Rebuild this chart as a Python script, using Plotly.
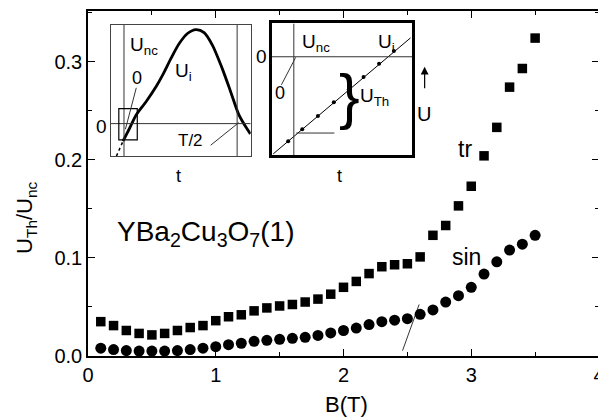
import plotly.graph_objects as go

# ---------------- main data ----------------
B_field = [0.1, 0.2, 0.3, 0.4, 0.5, 0.6, 0.7, 0.8, 0.9, 1.0,
           1.1, 1.2, 1.3, 1.4, 1.5, 1.6, 1.7, 1.8, 1.9, 2.0,
           2.1, 2.2, 2.3, 2.4, 2.5, 2.6, 2.7, 2.8, 2.9, 3.0,
           3.1, 3.2, 3.3, 3.4, 3.5]
tr_values = [0.035, 0.031, 0.026, 0.023, 0.0215, 0.023, 0.026, 0.029, 0.031, 0.036,
             0.040, 0.042, 0.046, 0.049, 0.051, 0.0525, 0.055, 0.058, 0.063, 0.070,
             0.076, 0.084, 0.091, 0.093, 0.094, 0.101, 0.123, 0.133, 0.153, 0.173,
             0.204, 0.233, 0.274, 0.293, 0.324]
sin_values = [0.008, 0.0065, 0.0055, 0.005, 0.005, 0.005, 0.0055, 0.0065, 0.008, 0.0095,
              0.0115, 0.013, 0.015, 0.016, 0.017, 0.018, 0.019, 0.021, 0.0235, 0.026,
              0.0285, 0.032, 0.035, 0.0365, 0.038, 0.0425, 0.047, 0.055, 0.0615, 0.070,
              0.0835, 0.096, 0.108, 0.114, 0.123]
x_ticks = [0, 1, 2, 3, 4]
y_ticks = [0.0, 0.1, 0.2, 0.3]
y_tick_labels = ["0.0", "0.1", "0.2", "0.3"]

# ---------------- inset 1 (U_i vs t) ----------------
inset1_t = [0.040, 0.087, 0.135, 0.182, 0.253, 0.324, 0.371, 0.430, 0.489, 0.548,
            0.608, 0.667, 0.726, 0.796, 0.856, 0.915, 0.962, 0.998]
inset1_u = [-0.348, -0.188, -0.047, 0.096, 0.237, 0.397, 0.521, 0.698, 0.857, 0.964,
            1.006, 0.974, 0.840, 0.591, 0.344, 0.096, -0.029, -0.111]

# ---------------- inset 2 (zoomed start) ----------------
inset2_line_x = [0.012, 0.986]
inset2_line_y = [0.010, 0.890]
inset2_dots_x = [0.118, 0.218, 0.329, 0.442, 0.547, 0.653, 0.763, 0.868]
inset2_dots_y = [0.106, 0.197, 0.298, 0.401, 0.497, 0.594, 0.694, 0.790]

FONT = "Arial, Liberation Sans, sans-serif"

fig = go.Figure()

fig.add_trace(go.Scatter(x=B_field, y=tr_values, mode="markers",
                         marker=dict(symbol="square", size=9.5, color="black"),
                         showlegend=False, xaxis="x", yaxis="y"))
fig.add_trace(go.Scatter(x=B_field, y=sin_values, mode="markers",
                         marker=dict(symbol="circle", size=11, color="black"),
                         showlegend=False, xaxis="x", yaxis="y"))

# inset 1 curve
fig.add_trace(go.Scatter(x=inset1_t[:2], y=inset1_u[:2], mode="lines",
                         line=dict(color="black", width=1.5, dash="dot"),
                         showlegend=False, xaxis="x2", yaxis="y2"))
fig.add_trace(go.Scatter(x=inset1_t[1:], y=inset1_u[1:], mode="lines",
                         line=dict(color="black", width=2.8, shape="spline", smoothing=0.8),
                         showlegend=False, xaxis="x2", yaxis="y2"))

# inset 2 line and dots
fig.add_trace(go.Scatter(x=inset2_line_x, y=inset2_line_y, mode="lines",
                         line=dict(color="black", width=1),
                         showlegend=False, xaxis="x3", yaxis="y3"))
fig.add_trace(go.Scatter(x=inset2_dots_x, y=inset2_dots_y, mode="markers",
                         marker=dict(symbol="circle", size=4, color="black"),
                         showlegend=False, xaxis="x3", yaxis="y3"))

axis_common = dict(showgrid=False, zeroline=False, showline=True, linecolor="black",
                   linewidth=1.5, mirror="allticks", ticks="inside", ticklen=7,
                   tickwidth=1.2, tickcolor="black", ticklabeloverflow="allow",
                   tickfont=dict(family=FONT, size=20, color="black"))

inset_axis = dict(showgrid=False, zeroline=False, showline=True, mirror=True,
                  showticklabels=False, ticks="", fixedrange=True)

# the page body adds an 8px offset, so the figure is 8px smaller than the window
fig.update_layout(
    width=598, height=410,
    margin=dict(l=80, r=3, t=1, b=62),
    paper_bgcolor="white", plot_bgcolor="white",
    font=dict(family=FONT, color="black"),
    xaxis=dict(range=[0, 4], tickvals=x_ticks, ticktext=[str(v) for v in x_ticks],
               minor=dict(dtick=0.5, ticks="inside", ticklen=4, tickcolor="black"),
               **axis_common),
    yaxis=dict(range=[0, 0.3516], tickvals=y_ticks, ticktext=y_tick_labels,
               minor=dict(dtick=0.05, ticks="inside", ticklen=4, tickcolor="black"),
               **axis_common),
    xaxis2=dict(domain=[0.0447, 0.3184], range=[0, 1], anchor="y2",
                linecolor="#444", linewidth=1, **inset_axis),
    yaxis2=dict(domain=[0.5793, 0.9597], range=[-0.348, 1.056], anchor="x2",
                linecolor="#444", linewidth=1, **inset_axis),
    xaxis3=dict(domain=[0.3592, 0.6350], range=[0, 1], anchor="y3",
                linecolor="black", linewidth=2.5, **inset_axis),
    yaxis3=dict(domain=[0.5821, 0.9640], range=[0, 1], anchor="x3",
                linecolor="black", linewidth=2.5, **inset_axis),
)

shapes = []
thin = dict(color="#333", width=1)
# inset 1 guide lines
shapes.append(dict(type="line", xref="x2", yref="y2", x0=0.094, x1=0.094, y0=-0.348, y1=1.056, line=thin))
shapes.append(dict(type="line", xref="x2", yref="y2", x0=0.903, x1=0.903, y0=-0.348, y1=1.056, line=thin))
shapes.append(dict(type="line", xref="x2", yref="y2", x0=0, x1=1, y0=0, y1=0, line=thin))
shapes.append(dict(type="rect", xref="x2", yref="y2", x0=0.057, x1=0.189, y0=-0.174, y1=0.160,
                   line=dict(color="black", width=1.2)))
shapes.append(dict(type="line", xref="x2", yref="y2", x0=0.182, y0=0.383, x1=0.104, y1=-0.061, line=thin))
shapes.append(dict(type="line", xref="x2", yref="y2", x0=0.714, y0=-0.231, x1=0.915, y1=0.011, line=thin))
# inset 2 guide lines
shapes.append(dict(type="line", xref="x3", yref="y3", x0=0.158, x1=0.158, y0=0, y1=1, line=thin))
shapes.append(dict(type="line", xref="x3", yref="y3", x0=0, x1=1, y0=0.747, y1=0.747, line=thin))
shapes.append(dict(type="line", xref="x3", yref="y3", x0=0.176, x1=0.446, y0=0.168, y1=0.168, line=thin))
shapes.append(dict(type="line", xref="x3", yref="y3", x0=0.070, y0=0.534, x1=0.171, y1=0.742, line=thin))
# pointer line in main plot
shapes.append(dict(type="line", xref="x", yref="y", x0=2.462, y0=0.0054, x1=2.592, y1=0.0525,
                   line=dict(color="black", width=0.8)))
fig.update_layout(shapes=shapes)

ann = []
def txt(text, x, y, xref, yref, size=18, xanchor="center", yanchor="middle", angle=0):
    ann.append(dict(text=text, x=x, y=y, xref=xref, yref=yref, showarrow=False,
                    xanchor=xanchor, yanchor=yanchor, textangle=angle,
                    font=dict(family=FONT, size=size, color="black")))

# main text
txt("tr", 2.95, 0.211, "x", "y", size=23)
txt("sin", 2.96, 0.101, "x", "y", size=23)
txt("YBa<sub>2</sub>Cu<sub>3</sub>O<sub>7</sub>(1)", 0.21, 0.125, "x", "y", size=28, xanchor="left")
txt("B(T)", 0.505, -0.141, "paper", "paper", size=22)
txt("U<sub>Th</sub>/U<sub>nc</sub>", -0.1215, 0.40, "paper", "paper", size=22, angle=-90)

# inset 1 text
txt("U<sub>nc</sub>", 0.121, 0.833, "x2", "y2", size=19, xanchor="left")
txt("0", 0.188, 0.493, "x2", "y2", size=18)
txt("U<sub>i</sub>", 0.442, 0.556, "x2", "y2", size=19, xanchor="left")
txt("T/2", 0.572, -0.185, "x2", "y2", size=17)
txt("0", 0.0266, 0.6657, "paper", "paper", size=19)
txt("t", 0.1767, 0.5216, "paper", "paper", size=18)

# inset 2 text
txt("U<sub>nc</sub>", 0.199, 0.853, "x3", "y3", size=19, xanchor="left")
txt("U<sub>i</sub>", 0.739, 0.853, "x3", "y3", size=19, xanchor="left")
txt("0", 0.063, 0.475, "x3", "y3", size=18)
txt("}", 0.551, 0.453, "x3", "y3", size=62)
txt("U<sub>Th</sub>", 0.611, 0.445, "x3", "y3", size=19, xanchor="left")
txt("0", 0.3398, 0.8674, "paper", "paper", size=19)
txt("t", 0.4913, 0.5216, "paper", "paper", size=18)
txt("U", 0.6583, 0.7017, "paper", "paper", size=20)
ann.append(dict(text="", x=0.6588, y=0.8386, xref="paper", yref="paper",
                ax=0, ay=23, showarrow=True, arrowhead=2, arrowsize=1.3,
                arrowwidth=1.2, arrowcolor="black"))
fig.update_layout(annotations=ann)

fig.write_html("out.html")
